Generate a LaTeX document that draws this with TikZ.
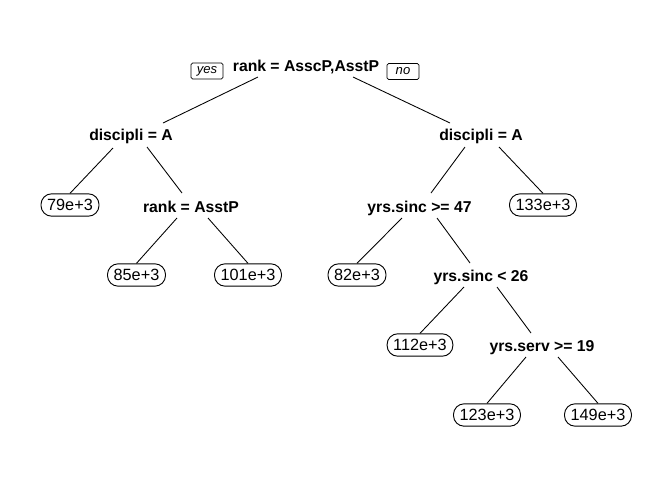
\documentclass[tikz,border=0pt]{standalone}
\usepackage{fontspec}
\setmainfont{Liberation Sans}
\usetikzlibrary{calc}
\begin{document}
\begin{tikzpicture}[x=0.75pt,y=-0.75pt,
  split/.style={anchor=base,inner sep=0pt,font=\fontsize{11.8}{14}\selectfont\bfseries},
  leaf/.style={draw,line width=0.7pt,rounded corners=8pt,minimum height=16.8pt,
    text height=8.7pt,text depth=0pt,inner xsep=4.6pt,inner ysep=0pt,
    font=\fontsize{12.2}{14}\selectfont},
  tag/.style={draw,line width=0.6pt,rounded corners=1.2pt,minimum width=24pt,minimum height=12pt,
    inner sep=0pt,font=\fontsize{9.8}{11}\selectfont\itshape},
  edge/.style={line width=0.65pt}]
\useasboundingbox[fill=white] (0,0) rectangle (672,480);
% split nodes
\node[split] (root) at (306,71) {rank = AsscP,AsstP};
\node[split] (dl) at (131,140) {discipli = A};
\node[split] (dr) at (481,140) {discipli = A};
\node[split] (ra) at (191,212) {rank = AsstP};
\node[split] (ys47) at (419.5,212) {yrs.sinc >= 47};
\node[split] (ys26) at (481,281) {yrs.sinc < 26};
\node[split] (ysv) at (542,351) {yrs.serv >= 19};
% yes / no tags
\node[tag] (yes) at (207,71) {yes};
\node[tag] (no) at (403,71.5) {no};
% leaves
\node[leaf] (l79) at (70,205) {79e+3};
\node[leaf] (l85) at (136.5,275) {85e+3};
\node[leaf] (l101) at (248,275) {101e+3};
\node[leaf] (l133) at (543,205) {133e+3};
\node[leaf] (l82) at (357,275) {82e+3};
\node[leaf] (l112) at (420,345) {112e+3};
\node[leaf] (l123) at (487,415) {123e+3};
\node[leaf] (l149) at (598,415) {149e+3};
% edges
\draw[edge] ($(root.base)+(-48,6)$) -- ($(dl.base)+(32,-17)$);
\draw[edge] ($(root.base)+(47,6)$) -- ($(dr.base)+(-31,-17)$);
\draw[edge] ($(dl.base)+(-18,8)$) -- (l79.north);
\draw[edge] ($(dl.base)+(16,7)$) -- ($(ra.base)+(-9,-19)$);
\draw[edge] ($(dr.base)+(-16,7)$) -- ($(ys47.base)+(11.5,-19)$);
\draw[edge] ($(dr.base)+(18,7)$) -- (l133.north);
\draw[edge] ($(ra.base)+(-14,6)$) -- (l85.north);
\draw[edge] ($(ra.base)+(17,6)$) -- (l101.north);
\draw[edge] ($(ys47.base)+(-17.5,6)$) -- (l82.north);
\draw[edge] ($(ys47.base)+(17.5,6)$) -- ($(ys26.base)+(-11,-18)$);
\draw[edge] ($(ys26.base)+(-17,6)$) -- (l112.north);
\draw[edge] ($(ys26.base)+(16,6)$) -- ($(ysv.base)+(-11,-18)$);
\draw[edge] ($(ysv.base)+(-16,6)$) -- (l123.north);
\draw[edge] ($(ysv.base)+(16,6)$) -- (l149.north);
\end{tikzpicture}
\end{document}
